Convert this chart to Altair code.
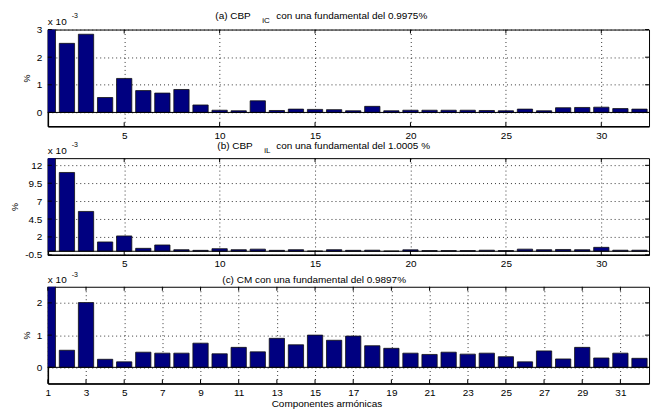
import altair as alt
import pandas as pd

# ---------------- data ----------------
armonicos = list(range(1, 33))
cbp_ic = [3.5, 2.50, 2.83, 0.54, 1.23, 0.79, 0.70, 0.83, 0.27, 0.08, 0.06, 0.42,
          0.07, 0.12, 0.11, 0.10, 0.06, 0.22, 0.06, 0.08, 0.08, 0.08, 0.08, 0.07,
          0.06, 0.12, 0.06, 0.17, 0.18, 0.19, 0.14, 0.12]
cbp_il = [14.0, 11.0, 5.56, 1.30, 2.14, 0.41, 0.88, 0.22, 0.13, 0.36, 0.22, 0.30,
          0.13, 0.22, 0.04, 0.22, 0.13, 0.15, 0.04, 0.20, 0.10, 0.10, 0.10, 0.15,
          0.10, 0.30, 0.22, 0.25, 0.22, 0.55, 0.15, 0.15]
cm = [3.0, 0.53, 2.01, 0.25, 0.17, 0.47, 0.44, 0.44, 0.75, 0.42, 0.62, 0.48,
      0.90, 0.70, 1.00, 0.84, 0.97, 0.67, 0.59, 0.44, 0.40, 0.47, 0.41, 0.44,
      0.33, 0.17, 0.51, 0.26, 0.62, 0.29, 0.44, 0.28]

xticks_ab = [5, 10, 15, 20, 25, 30]
xticks_c = list(range(1, 32, 2))
yticks_a = [0, 1, 2, 3]
yticks_b = [-0.5, 2, 4.5, 7, 9.5, 12]
yticks_c = [0, 1, 2]
ydom_a = [-0.5, 3]
ydom_b = [-0.5, 13]
ydom_c = [-0.5, 2.5]

titulo_a = ["(a) CBP", "iC", "con una fundamental del 0.9975%"]
titulo_b = ["(b) CBP", "iL", "con una fundamental del 1.0005 %"]
titulo_c = ["(c) CM con una fundamental del 0.9897%"]
escala = ["x 10", "-3"]
ylabel = "%"
xlabel = "Componentes armónicas"

# ---------------- styling ----------------
W, H = 603, 97
FONT = "Liberation Sans"
XDOM = [1, 32.5]
LABEL_EXPR = "datum.value < 0 ? '-' + format(-datum.value, '~g') : format(datum.value, '~g')"


def text_layer(txt, x, y, size=10, align="left"):
    return alt.Chart(pd.DataFrame({"t": [txt]})).mark_text(
        align=align, baseline="middle", font=FONT, fontSize=size, color="black"
    ).encode(x=alt.value(x), y=alt.value(y), text="t:N")


def panel(values, ydom, yticks, xticks, extra_texts):
    df = pd.DataFrame({"h": armonicos, "v": values})
    xs = alt.Scale(domain=XDOM, nice=False, zero=False)
    ys = alt.Scale(domain=ydom, nice=False, zero=False)
    xax = alt.Axis(values=xticks, title=None, labelFlush=False, labelPadding=4,
                   format="d", grid=True)
    yax = alt.Axis(values=yticks, title=ylabel, labelFlush=False, labelPadding=6,
                   labelExpr=LABEL_EXPR,
                   titlePadding=5, titleFontSize=9, titleFontWeight="normal",
                   titleFont=FONT, grid=True)
    bars = alt.Chart(df).transform_calculate(
        x1="datum.h - 0.4", x2="datum.h + 0.4"
    ).mark_bar(clip=True, color="#000080", stroke="#111111", strokeWidth=0.8).encode(
        x=alt.X("x1:Q", scale=xs, axis=xax),
        x2="x2:Q",
        y=alt.Y("v:Q", scale=ys, axis=yax),
        y2=alt.datum(0),
    )
    base = alt.Chart(pd.DataFrame({"z": [0]})).mark_rule(color="black", strokeWidth=1).encode(
        y=alt.Y(datum=0, scale=ys, axis=yax), x=alt.value(0), x2=alt.value(W)
    )
    xt = pd.DataFrame({"t": xticks})
    yt = pd.DataFrame({"t": yticks})
    xb = alt.Chart(xt).mark_rule(color="black").encode(
        x=alt.X("t:Q", scale=xs, axis=xax), y=alt.value(H), y2=alt.value(H - 4))
    xtop = alt.Chart(xt).mark_rule(color="black").encode(
        x=alt.X("t:Q", scale=xs, axis=xax), y=alt.value(0), y2=alt.value(4))
    yl = alt.Chart(yt).mark_rule(color="black").encode(
        y=alt.Y("t:Q", scale=ys, axis=yax), x=alt.value(0), x2=alt.value(4))
    yr = alt.Chart(yt).mark_rule(color="black").encode(
        y=alt.Y("t:Q", scale=ys, axis=yax), x=alt.value(W - 4), x2=alt.value(W))
    layers = [bars, base, xb, xtop, yl, yr] + extra_texts
    return alt.layer(*layers).properties(width=W, height=H)


pa = panel(cbp_ic, ydom_a, yticks_a, xticks_ab, [
    text_layer(escala[0], 0, -8),
    text_layer(escala[1], 24, -14, size=7),
    text_layer(titulo_a[0], 168, -14),
    text_layer(titulo_a[1], 215, -9, size=8),
    text_layer(titulo_a[2], 229, -14),
])
pb = panel(cbp_il, ydom_b, yticks_b, xticks_ab, [
    text_layer(escala[0], 0, -7),
    text_layer(escala[1], 24, -13, size=7),
    text_layer(titulo_b[0], 170, -12),
    text_layer(titulo_b[1], 217, -7, size=8),
    text_layer(titulo_b[2], 229, -12),
])
pc = panel(cm, ydom_c, yticks_c, xticks_c, [
    text_layer(escala[0], 0, -7),
    text_layer(escala[1], 24, -12, size=7),
    text_layer(titulo_c[0], 175, -7),
    text_layer(xlabel, 280, H + 21, align="center"),
])

chart = alt.vconcat(pa, pb, pc, spacing=32, bounds="flush").properties(
    padding={"left": 10, "top": 9, "right": 7, "bottom": 4}
).configure_view(
    stroke="black", strokeWidth=1
).configure_axis(
    labelFont=FONT, labelFontSize=10, labelColor="black",
    gridColor="#222222", gridDash=[1, 3], gridWidth=1, gridOpacity=0.9,
    domainColor="black", domainWidth=1.5, ticks=False,
    titleColor="black",
)

chart.save("out.html", embed_options={"renderer": "svg", "actions": False})
